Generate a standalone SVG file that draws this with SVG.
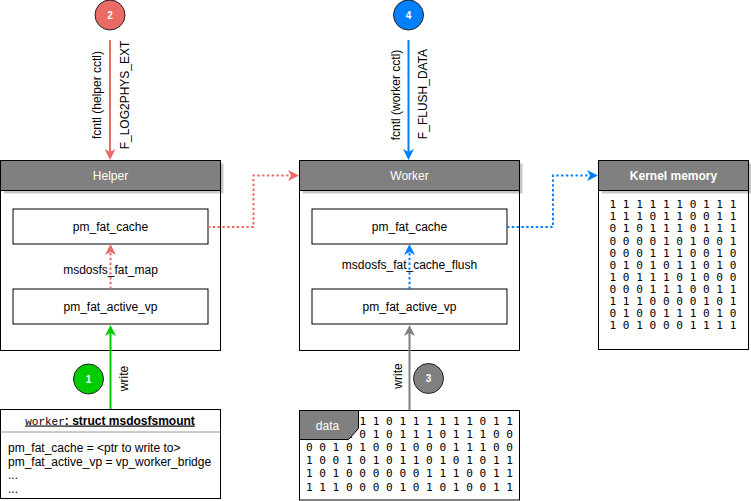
<svg xmlns="http://www.w3.org/2000/svg" width="751" height="501" viewBox="0 0 751 501">
<defs>
<style>
text{font-family:"Liberation Sans",Arial,Helvetica,sans-serif;font-size:12px;fill:#000}
.body{fill:#fff;stroke:#000;stroke-width:1}
.head{fill:#808080;stroke:#000;stroke-width:1}
.shadow{fill:#000;opacity:0.22}
.inner{fill:#fff;stroke:#000;stroke-width:1}
.ht{fill:#fff;text-anchor:middle}
.c{text-anchor:middle}
.mono{font-family:"DejaVu Sans Mono","Liberation Mono",monospace;font-size:11.1px}
.badge{stroke:#222;stroke-width:1}
.bt{fill:#fff;font-weight:bold;font-size:10px;text-anchor:middle}
.dot{fill:none;stroke-width:2;stroke-dasharray:2.4 2.4}
.solid{fill:none;stroke-width:2}
</style>
<marker id="aRed" viewBox="0 0 11 11" markerUnits="userSpaceOnUse" markerWidth="11" markerHeight="11" refX="7" refY="5.5" orient="auto"><path d="M0,0 L11,5.5 L0,11 L3,5.5 Z" fill="#EA6B66"/></marker>
<marker id="aBlue" viewBox="0 0 11 11" markerUnits="userSpaceOnUse" markerWidth="11" markerHeight="11" refX="7" refY="5.5" orient="auto"><path d="M0,0 L11,5.5 L0,11 L3,5.5 Z" fill="#007FFF"/></marker>
<marker id="aGreen" viewBox="0 0 11 11" markerUnits="userSpaceOnUse" markerWidth="11" markerHeight="11" refX="7" refY="5.5" orient="auto"><path d="M0,0 L11,5.5 L0,11 L3,5.5 Z" fill="#00CC00"/></marker>
<marker id="aGray" viewBox="0 0 11 11" markerUnits="userSpaceOnUse" markerWidth="11" markerHeight="11" refX="7" refY="5.5" orient="auto"><path d="M0,0 L11,5.5 L0,11 L3,5.5 Z" fill="#808080"/></marker>
</defs>
<rect width="751" height="501" fill="#fff"/>

<g id="helper">
<rect class="body" x="0.5" y="160.5" width="220" height="190"/>
<rect class="shadow" x="3.5" y="163.5" width="220" height="30"/>
<rect class="head" x="0.5" y="160.5" width="220" height="30"/>
<text class="ht" x="110.5" y="179.5">Helper</text>
</g>
<g id="helper-cache">
<rect class="inner" x="13" y="209" width="195" height="35"/>
<text class="c" x="110.5" y="231">pm_fat_cache</text>
</g>
<g id="helper-active">
<rect class="inner" x="13" y="289" width="195" height="35"/>
<text class="c" x="110.5" y="311">pm_fat_active_vp</text>
</g>

<g id="worker">
<rect class="body" x="299.5" y="160.5" width="220" height="190"/>
<rect class="shadow" x="302.5" y="163.5" width="220" height="30"/>
<rect class="head" x="299.5" y="160.5" width="220" height="30"/>
<text class="ht" x="409.5" y="179.5">Worker</text>
</g>
<g id="worker-cache">
<rect class="inner" x="312" y="209" width="195" height="35"/>
<text class="c" x="409.5" y="231">pm_fat_cache</text>
</g>
<g id="worker-active">
<rect class="inner" x="312" y="289" width="195" height="35"/>
<text class="c" x="409.5" y="311">pm_fat_active_vp</text>
</g>

<g id="kernel">
<rect class="body" x="598.5" y="160.5" width="150" height="189"/>
<rect class="shadow" x="601.5" y="163.5" width="150" height="30"/>
<rect class="head" x="598.5" y="160.5" width="150" height="30"/>
<text class="ht" x="673.5" y="179.5" font-weight="bold">Kernel memory</text>
<text class="mono" x="609.5" y="208.3">1 1 1 1 1 1 0 1 1 1</text>
<text class="mono" x="609.5" y="220.37">1 1 1 0 1 1 0 0 1 1</text>
<text class="mono" x="609.5" y="232.44">0 1 0 1 1 1 0 1 1 1</text>
<text class="mono" x="609.5" y="244.51">0 0 0 0 1 0 1 0 0 1</text>
<text class="mono" x="609.5" y="256.58">0 0 0 1 1 1 0 0 1 0</text>
<text class="mono" x="609.5" y="268.65">0 1 0 1 0 1 1 0 1 0</text>
<text class="mono" x="609.5" y="280.72">1 0 1 1 1 0 1 0 0 0</text>
<text class="mono" x="609.5" y="292.79">0 0 0 1 1 1 0 0 1 1</text>
<text class="mono" x="609.5" y="304.86">1 1 1 0 0 0 0 1 0 1</text>
<text class="mono" x="609.5" y="316.93">0 1 0 0 1 1 1 0 1 0</text>
<text class="mono" x="609.5" y="329">1 0 1 0 0 0 1 1 1 1</text>
</g>

<g id="struct">
<rect class="body" x="0.5" y="409.5" width="220" height="89"/>
<line x1="0.5" y1="432" x2="220.5" y2="432" stroke="#999" stroke-width="1"/>
<text class="c" x="110" y="424.5"><tspan font-family="'Liberation Mono','DejaVu Sans Mono',monospace" font-size="11" text-decoration="underline">worker</tspan><tspan font-weight="bold" text-decoration="underline">: struct msdosfsmount</tspan></text>
<text x="8" y="452">pm_fat_cache = &lt;ptr to write to&gt;</text>
<text x="8" y="465.5">pm_fat_active_vp = vp_worker_bridge</text>
<text x="8" y="479">...</text>
<text x="8" y="492.5">...</text>
</g>

<g id="data">
<rect class="body" x="299.5" y="410.5" width="220" height="89.5"/>
<text class="mono" x="359.4" y="425">1 1 0 1 1 1 1 1 1 0 1 1</text>
<text class="mono" x="346" y="438.1">1 0 1 0 1 1 1 0 1 1 1 0 0</text>
<text class="mono" x="305.9" y="451.2">0 0 1 0 1 0 0 1 0 0 0 1 1 1 0 0</text>
<text class="mono" x="305.9" y="464.3">1 0 0 1 0 1 0 1 1 0 1 0 1 0 1 1</text>
<text class="mono" x="305.9" y="477.4">1 0 1 0 0 0 0 0 0 1 1 1 0 0 1 1</text>
<text class="mono" x="305.9" y="490.5">1 1 1 0 0 0 0 1 0 1 0 1 0 0 1 1</text>
<path d="M299.5,410.5 H358.5 V428.5 L348.5,439.5 H299.5 Z" fill="#808080" stroke="#000" stroke-width="1"/>
<text class="ht" x="327.5" y="430">data</text>
</g>

<g id="badge1">
<circle class="badge" cx="88.5" cy="379" r="15" fill="#00CC00"/>
<text class="bt" x="88.5" y="382.5">1</text>
</g>
<g id="badge2">
<circle class="badge" cx="110" cy="15" r="15" fill="#EA6B66"/>
<text class="bt" x="110" y="18.5">2</text>
</g>
<g id="badge3">
<circle class="badge" cx="428.5" cy="378.5" r="15" fill="#808080"/>
<text class="bt" x="428.5" y="382">3</text>
</g>
<g id="badge4">
<circle class="badge" cx="408.5" cy="15" r="15" fill="#007FFF"/>
<text class="bt" x="408.5" y="18.5">4</text>
</g>

<g id="connectors">
<path class="solid" stroke="#EA6B66" d="M110,40 V156" marker-end="url(#aRed)"/>
<path class="solid" stroke="#007FFF" d="M408.5,40 V156" marker-end="url(#aBlue)"/>
<path class="solid" stroke="#00CC00" d="M110.5,409 V329" marker-end="url(#aGreen)"/>
<path class="solid" stroke="#808080" d="M409.5,410 V329" marker-end="url(#aGray)"/>
<path class="dot" stroke="#EA6B66" d="M208,227 H253.5 V175.5 H295" marker-end="url(#aRed)"/>
<path class="dot" stroke="#EA6B66" d="M110.5,289 V248" marker-end="url(#aRed)"/>
<path class="dot" stroke="#007FFF" d="M409.5,289 V248" marker-end="url(#aBlue)"/>
<path class="dot" stroke="#007FFF" d="M507,227 H553 V175.5 H594" marker-end="url(#aBlue)"/>
<text transform="translate(101,95) rotate(-90)" class="c">fcntl (helper cctl)</text>
<text transform="translate(128.5,95) rotate(-90)" class="c" font-size="11">F_LOG2PHYS_EXT</text>
<text transform="translate(399.5,95) rotate(-90)" class="c">fcntl (worker cctl)</text>
<text transform="translate(426.5,94) rotate(-90)" class="c" font-size="11">F_FLUSH_DATA</text>
<text transform="translate(127.5,378.5) rotate(-90)" class="c">write</text>
<text transform="translate(401.5,376) rotate(-90)" class="c">write</text>
<text class="c" x="110.5" y="274">msdosfs_fat_map</text>
<text class="c" x="409.5" y="269">msdosfs_fat_cache_flush</text>
</g>
</svg>
